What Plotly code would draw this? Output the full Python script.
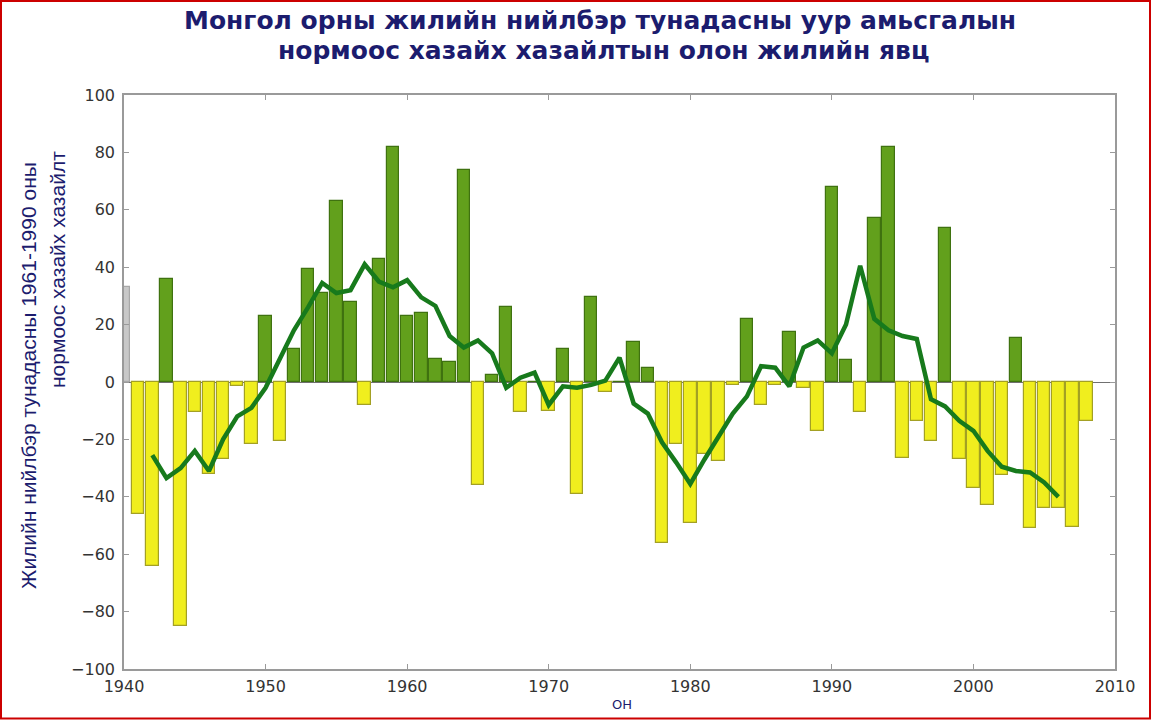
import plotly.graph_objects as go

# ---- data ----
years = list(range(1940, 2009))
anomaly = [
    33,                                         # 1940
    -46, -64, 36, -85, -10.5, -32, -27, -1.5, -21.5, 23,   # 1941-1950
    -20.5, 11.5, 39.5, 31, 63, 28, -8, 43, 82, 23,         # 1951-1960
    24, 8, 7, 74, -36, 2.5, 26, -10.5, 0, -10,             # 1961-1970
    11.5, -39, 29.5, -3.5, 0, 14, 5, -56, -21.5, -49,      # 1971-1980
    -25, -27.5, -1, 22, -8, -1, 17.5, -2, -17, 68,         # 1981-1990
    7.5, -10.5, 57, 82, -26.5, -13.5, -20.5, 53.5, -27, -37,  # 1991-2000
    -43, -32.5, 15.5, -51, -44, -44, -50.5, -13.5,         # 2001-2008
]

smooth_years = list(range(1942, 2007))
smooth = [
    -25.5, -33.5, -30, -24, -31, -20, -12, -9, -2,          # 1942-1950
    8, 18, 26, 34.5, 31, 32, 41, 35, 33, 35.5,              # 1951-1960
    29.5, 26.5, 16, 12, 14.5, 10, -2, 1.5, 3.3, -8,         # 1961-1970
    -1.5, -2, -1, 0.5, 8.5, -7.5, -11, -21, -28, -35.5,     # 1971-1980
    -27, -19, -11, -5, 5.5, 5, -1.5, 12, 14.5, 10,          # 1981-1990
    20, 40.5, 22, 18, 16, 15, -6, -8.5, -13.5, -17,         # 1991-2000
    -24, -29.5, -31, -31.5, -35, -40,                       # 2001-2006
]

title_line1 = "Монгол орны жилийн нийлбэр тунадасны уур амьсгалын"
title_line2 = "нормоос хазайх хазайлтын олон жилийн явц"
ylabel_line1 = "Жилийн нийлбэр тунадасны 1961-1990 оны"
ylabel_line2 = "нормоос хазайх хазайлт"
xlabel = "ОН"
x_ticks = list(range(1940, 2011, 10))
y_ticks = list(range(-100, 101, 20))

# ---- styling ----
GREEN_FILL, GREEN_EDGE = "#62a01c", "#3f7210"
YELLOW_FILL, YELLOW_EDGE = "#f0ee1e", "#a3a024"
GREY_FILL, GREY_EDGE = "#c8c8c8", "#a8a8a8"
LINE_COLOR = "#177a1c"
NAVY = "#1c1c6e"
WIDE = "DejaVu Sans, Verdana, sans-serif"
NORMAL = "Liberation Sans, Arial, sans-serif"

fills, edges = [], []
for i, v in enumerate(anomaly):
    if i == 0:
        fills.append(GREY_FILL); edges.append(GREY_EDGE)
    elif v >= 0:
        fills.append(GREEN_FILL); edges.append(GREEN_EDGE)
    else:
        fills.append(YELLOW_FILL); edges.append(YELLOW_EDGE)

fig = go.Figure()
fig.add_trace(go.Bar(
    x=years, y=anomaly, width=0.88,
    marker=dict(color=fills, line=dict(color=edges, width=1.2)),
    showlegend=False, hoverinfo="x+y",
))
fig.add_trace(go.Scatter(
    x=smooth_years, y=smooth, mode="lines",
    line=dict(color=LINE_COLOR, width=4.5),
    showlegend=False,
))

L, R, T, B = 124, 1115, 95, 669
W, H = R - L, B - T


def px(xp):
    return (xp - L) / W


def py(yp):
    return (B - yp) / H


axis_common = dict(
    showline=True, linecolor="#9a9a9a", linewidth=1.5, mirror="ticks",
    ticks="inside", ticklen=5, tickcolor="#9a9a9a", tickwidth=1,
    showgrid=False,
    tickfont=dict(family=WIDE, size=16, color="#333333"),
)

fig.update_layout(
    width=1152, height=720,
    margin=dict(l=L, r=1152 - R, t=T, b=720 - B),
    paper_bgcolor="white", plot_bgcolor="white",
    bargap=0,
    xaxis=dict(range=[1940, 2010], tickvals=x_ticks, zeroline=False,
               ticklabelstandoff=2, **axis_common),
    yaxis=dict(range=[-100, 100], tickvals=y_ticks, zeroline=True,
               zerolinecolor="#707070", zerolinewidth=1.2,
               ticklabelstandoff=4, **axis_common),
    annotations=[
        dict(text=f"<b>{title_line1}</b>", x=px(600), y=py(20), xref="paper", yref="paper",
             showarrow=False, xanchor="center", yanchor="middle",
             font=dict(family=WIDE, size=25, color=NAVY)),
        dict(text=f"<b>{title_line2}</b>", x=px(603), y=py(50), xref="paper", yref="paper",
             showarrow=False, xanchor="center", yanchor="middle",
             font=dict(family=WIDE, size=25, color=NAVY)),
        dict(text=ylabel_line1, x=px(28), y=py(376), xref="paper", yref="paper",
             showarrow=False, xanchor="center", yanchor="middle", textangle=-90,
             font=dict(family=NORMAL, size=21, color=NAVY)),
        dict(text=ylabel_line2, x=px(57), y=py(270), xref="paper", yref="paper",
             showarrow=False, xanchor="center", yanchor="middle", textangle=-90,
             font=dict(family=NORMAL, size=21, color=NAVY)),
        dict(text=xlabel, x=px(622), y=py(704), xref="paper", yref="paper",
             showarrow=False, xanchor="center", yanchor="middle",
             font=dict(family=WIDE, size=13, color=NAVY)),
    ],
    shapes=[
        dict(type="rect", xref="paper", yref="paper",
             x0=px(1), x1=px(1150), y0=py(718.5), y1=py(1),
             line=dict(color="#cc0000", width=2), fillcolor="rgba(0,0,0,0)", layer="above"),
    ],
)

fig.write_html("out.html", config={"displayModeBar": False},
               post_script="document.body.style.margin='0';")
